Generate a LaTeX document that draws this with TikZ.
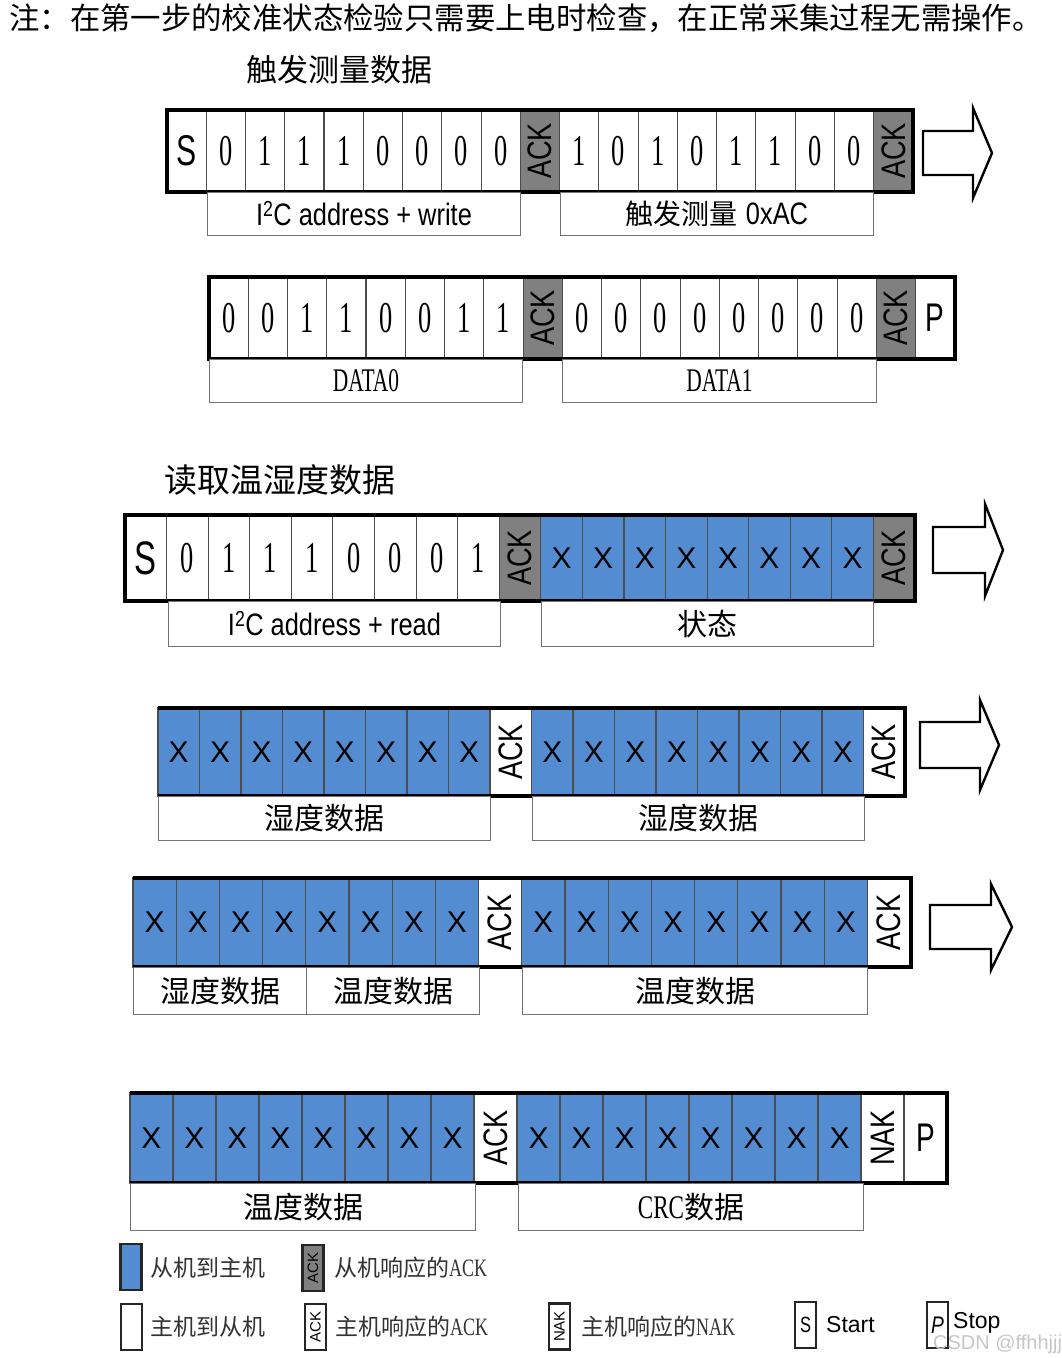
\documentclass[tikz,border=0pt]{standalone}
\usepackage{fontspec}
\usepackage{graphicx}
\setmainfont{Liberation Serif}
\newfontfamily\lsans{Liberation Sans}
\newfontfamily\cjk{Noto Sans CJK SC}
\definecolor{cblue}{RGB}{84,140,210}
\definecolor{cgray}{RGB}{128,128,128}
\newcommand\fs[1]{\fontsize{#1}{#1}\selectfont}
\newcommand\dd[1]{{\fs{44}\scalebox{0.6}[1]{#1}}}
\newcommand\ackT{\rotatebox{90}{\lsans\fs{34}\scalebox{0.8}[1]{ACK}}}
\newcommand\nakT{\rotatebox{90}{\lsans\fs{34}\scalebox{0.8}[1]{NAK}}}
\newcommand\xx{{\lsans\fs{30}X}}
\newcommand\sS{{\lsans\fs{43}\scalebox{0.7}[1]{S}}}
\newcommand\sSb{{\lsans\fs{47}\scalebox{0.7}[1]{S}}}
\newcommand\pP{{\lsans\fs{40}\scalebox{0.7}[1]{P}}}
\newcommand\lab[1]{{\lsans\fs{31}\scalebox{0.82}[1]{#1}}}
\newcommand\cj[1]{{\cjk\fs{30}#1}}
\tikzset{
  cellbase/.style={draw=black!70, line width=1.1pt, inner sep=0pt, outer sep=0pt},
  kw/.style={cellbase, fill=white},
  kb/.style={cellbase, fill=cblue},
  kg/.style={cellbase, fill=cgray},
  frame/.style={line width=4pt, line join=miter},
  labbox/.style={draw=black!55, line width=1pt, fill=white, inner sep=0pt, anchor=north west},
  bigarr/.style={draw=black, line width=2.4pt, fill=white, line join=miter},
  legbox/.style={draw=black!85, line width=2.5pt, fill=white, inner sep=0pt, minimum width=21pt, minimum height=46pt},
  legtext/.style={anchor=west, text=black!80, inner sep=0pt},
}
% name, x0, cell width, ytop, height, list
\newcommand\cellrow[6]{%
  \foreach \ty/\tx [count=\i] in {#6}{
    \node[\ty, minimum width=#3pt, minimum height=#5pt] (#1c\i) at ({#2+(\i-0.5)*#3},{#4+#5/2}) {\tx};
  }
}
% left, tip, center y, head length, body half, head half
\newcommand\bigarrow[6]{%
  \draw[bigarr] ({#1},{#3-#5}) -- ({#2-#4},{#3-#5}) -- ({#2-#4},{#3-#6}) -- ({#2},{#3})
    -- ({#2-#4},{#3+#6}) -- ({#2-#4},{#3+#5}) -- ({#1},{#3+#5}) -- cycle;
}
\begin{document}
\begin{tikzpicture}[x=1pt,y=-1pt]
\fill[white] (0,0) rectangle (1061,1358);
\useasboundingbox (0,0) rectangle (1061,1358);

% header texts
\node[anchor=west, inner sep=0pt] (note) at (9,18) {\cjk\fs{30.4}注：在第一步的校准状态检验只需要上电时检查，在正常采集过程无需操作。};
\node[anchor=west, inner sep=0pt] (title1) at (246,70) {\cjk\fs{31}触发测量数据};
\node[anchor=west, inner sep=0pt] (title2) at (164,480) {\cjk\fs{33}读取温湿度数据};

% ---------- Row 1 ----------
\cellrow{ra}{167}{39.26}{110}{82}{kw/\sS,kw/\dd0,kw/\dd1,kw/\dd1,kw/\dd1,kw/\dd0,kw/\dd0,kw/\dd0,kw/\dd0,kg/\ackT,kw/\dd1,kw/\dd0,kw/\dd1,kw/\dd0,kw/\dd1,kw/\dd1,kw/\dd0,kw/\dd0,kg/\ackT}
\draw[frame] (rac1.north west) rectangle (rac19.south east);
\node[labbox, minimum width=313pt, minimum height=43pt] (la1) at (207,192) {\lab{I\textsuperscript{2}C address + write}};
\node[labbox, minimum width=313pt, minimum height=43pt] (la2) at (560,192) {{\cjk\fs{28}触发测量}\hspace{8pt}\lab{0xAC}};
\bigarrow{923}{992}{153}{19}{22}{45}

% ---------- Row 2 ----------
\cellrow{rb}{209}{39.26}{277}{82}{kw/\dd0,kw/\dd0,kw/\dd1,kw/\dd1,kw/\dd0,kw/\dd0,kw/\dd1,kw/\dd1,kg/\ackT,kw/\dd0,kw/\dd0,kw/\dd0,kw/\dd0,kw/\dd0,kw/\dd0,kw/\dd0,kw/\dd0,kg/\ackT,kw/\pP}
\draw[frame] (rbc1.north west) rectangle (rbc19.south east);
\node[labbox, minimum width=313pt, minimum height=43pt] (lb1) at (209,359) {{\fs{33}\scalebox{0.65}[1]{DATA0}}};
\node[labbox, minimum width=314pt, minimum height=43pt] (lb2) at (562,359) {{\fs{33}\scalebox{0.65}[1]{DATA1}}};

% ---------- Row 3 ----------
\cellrow{rc}{125}{41.58}{515}{86}{kw/\sSb,kw/\dd0,kw/\dd1,kw/\dd1,kw/\dd1,kw/\dd0,kw/\dd0,kw/\dd0,kw/\dd1,kg/\ackT,kb/\xx,kb/\xx,kb/\xx,kb/\xx,kb/\xx,kb/\xx,kb/\xx,kb/\xx,kg/\ackT}
\draw[frame] (rcc1.north west) rectangle (rcc19.south east);
\node[labbox, minimum width=332pt, minimum height=45pt] (lc1) at (168,601) {\lab{I\textsuperscript{2}C address + read}};
\node[labbox, minimum width=332pt, minimum height=45pt] (lc2) at (541,601) {\cj{状态}};
\bigarrow{933}{1003}{550}{18}{23}{46}

% ---------- Row 4 ----------
\cellrow{rd}{158}{41.5}{708}{88}{kb/\xx,kb/\xx,kb/\xx,kb/\xx,kb/\xx,kb/\xx,kb/\xx,kb/\xx,kw/\ackT,kb/\xx,kb/\xx,kb/\xx,kb/\xx,kb/\xx,kb/\xx,kb/\xx,kb/\xx,kw/\ackT}
\draw[frame] (rdc1.north west) -- (rdc18.north east) -- (rdc18.south east) -- (rdc1.south west);
\node[labbox, minimum width=332pt, minimum height=44pt] (ld1) at (158,796) {\cj{湿度数据}};
\node[labbox, minimum width=332pt, minimum height=44pt] (ld2) at (532,796) {\cj{湿度数据}};
\bigarrow{920}{999}{745}{19}{23}{45}

% ---------- Row 5 ----------
\cellrow{re}{133}{43.2}{878}{89}{kb/\xx,kb/\xx,kb/\xx,kb/\xx,kb/\xx,kb/\xx,kb/\xx,kb/\xx,kw/\ackT,kb/\xx,kb/\xx,kb/\xx,kb/\xx,kb/\xx,kb/\xx,kb/\xx,kb/\xx,kw/\ackT}
\draw[frame] (rec1.north west) -- (rec18.north east) -- (rec18.south east) -- (rec1.south west);
\node[labbox, minimum width=173pt, minimum height=47pt] (le1) at (133,967) {\cj{湿度数据}};
\node[labbox, minimum width=173pt, minimum height=47pt] (le2) at (306,967) {\cj{温度数据}};
\node[labbox, minimum width=345pt, minimum height=47pt] (le3) at (522,967) {\cj{温度数据}};
\bigarrow{930}{1012}{927}{21}{22}{43}

% ---------- Row 6 ----------
\cellrow{rf}{130}{43.0}{1093}{90}{kb/\xx,kb/\xx,kb/\xx,kb/\xx,kb/\xx,kb/\xx,kb/\xx,kb/\xx,kw/\ackT,kb/\xx,kb/\xx,kb/\xx,kb/\xx,kb/\xx,kb/\xx,kb/\xx,kb/\xx,kw/\nakT,kw/\pP}
\draw[frame] (rfc1.north west) -- (rfc19.north east) -- (rfc19.south east) -- (rfc1.south west);
\node[labbox, minimum width=345pt, minimum height=47pt] (lf1) at (130,1183) {\cj{温度数据}};
\node[labbox, minimum width=345pt, minimum height=47pt] (lf2) at (518,1183) {{\fs{33}\scalebox{0.7}[1]{CRC}}\cj{数据}};

% ---------- Legend ----------
\node[legbox, fill=cblue] (lg1) at (131,1267) {};
\node[legtext] (lt1) at (150,1268) {\cjk\fs{23}从机到主机};
\node[legbox, fill=cgray] (lg2) at (313,1268) {\rotatebox{90}{\lsans\fs{15}ACK}};
\node[legtext] (lt2) at (334,1268) {{\cjk\fs{23}从机响应的}{\fs{25}\scalebox{0.72}[1]{ACK}}};
\node[legbox] (lg3) at (131.5,1327) {};
\node[legtext] (lt3) at (150,1327) {\cjk\fs{23}主机到从机};
\node[legbox] (lg4) at (315.5,1327) {\rotatebox{90}{\lsans\fs{15}ACK}};
\node[legtext] (lt4) at (335,1327) {{\cjk\fs{23}主机响应的}{\fs{25}\scalebox{0.72}[1]{ACK}}};
\node[legbox] (lg5) at (559.5,1326.5) {\rotatebox{90}{\lsans\fs{15}NAK}};
\node[legtext] (lt5) at (581,1327) {{\cjk\fs{23}主机响应的}{\fs{25}\scalebox{0.72}[1]{NAK}}};
\node[legbox] (lg6) at (805.5,1325) {{\lsans\fs{22}\scalebox{0.75}[1]{S}}};
\node[legtext, text=black] (lt6) at (826,1325) {\lsans\fs{23}Start};
\node[legbox] (lg7) at (937.5,1325) {{\lsans\fs{24}\scalebox{0.8}[1]{\itshape P}}};
\node[legtext, text=black] (lt7) at (953,1323) {\lsans\fs{23}Stop};
\node[legtext, text=black!22] (wm) at (933,1344) {\lsans\fs{20}CSDN @ffhhjjj};
\end{tikzpicture}
\end{document}
